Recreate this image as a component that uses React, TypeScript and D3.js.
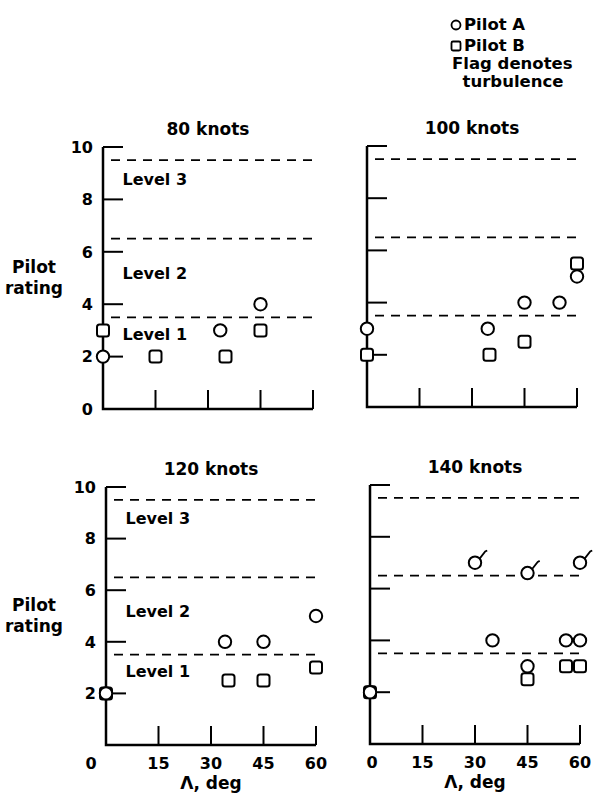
import React from "react";
import * as d3 from "d3";

// ---------- data ----------
const panelTitles = ["80 knots", "100 knots", "120 knots", "140 knots"];
const levelBounds = [3.5, 6.5, 9.5];
const levelNames = ["Level 1", "Level 2", "Level 3"];
const levelLabelY = [2.65, 4.95, 8.55];
const yTickValues = [2, 4, 6, 8, 10];
const xTickValues = [15, 30, 45, 60];
const xTickLabels = ["15", "30", "45", "60"];
const yTickLabels = ["2", "4", "6", "8", "10"];

// 80 knots
const sweep80A = [0, 33.5, 45];
const rating80A = [2, 3, 4];
const sweep80B = [0, 15, 35, 45];
const rating80B = [3, 2, 2, 3];
// 100 knots
const sweep100A = [0, 34.5, 45, 55, 60];
const rating100A = [3, 3, 4, 4, 5];
const sweep100B = [0, 35, 45, 60];
const rating100B = [2, 2, 2.5, 5.5];
// 120 knots
const sweep120A = [0, 34, 45, 60];
const rating120A = [2, 4, 4, 5];
const sweep120B = [0, 35, 45, 60];
const rating120B = [2, 2.5, 2.5, 3];
// 140 knots
const sweep140A = [0, 35, 45, 56, 60];
const rating140A = [2, 4, 3, 4, 4];
const sweep140Aturb = [30, 45, 60];
const rating140Aturb = [7, 6.6, 7];
const sweep140B = [0, 45, 56, 60];
const rating140B = [2, 2.5, 3, 3];

type Pt = { x: number; y: number; flag?: boolean };
const zip = (xs: number[], ys: number[], flag = false): Pt[] =>
  xs.map((x, i) => ({ x, y: ys[i], flag }));

const panelData = [
  { A: zip(sweep80A, rating80A), B: zip(sweep80B, rating80B) },
  { A: zip(sweep100A, rating100A), B: zip(sweep100B, rating100B) },
  { A: zip(sweep120A, rating120A), B: zip(sweep120B, rating120B) },
  {
    A: [...zip(sweep140A, rating140A), ...zip(sweep140Aturb, rating140Aturb, true)],
    B: zip(sweep140B, rating140B),
  },
];

// ---------- layout ----------
const W = 593;
const H = 800;
const PW = 210;
const geom = [
  { left: 103, top: 147, bottom: 409, yLabels: true, xLabels: false, zeroMode: "left" },
  { left: 367, top: 146, bottom: 407, yLabels: false, xLabels: false, zeroMode: "none" },
  { left: 106, top: 487, bottom: 745, yLabels: true, xLabels: true, zeroMode: "corner" },
  { left: 370, top: 485, bottom: 744, yLabels: false, xLabels: true, zeroMode: "center" },
];
const FONT = "'DejaVu Sans', Verdana, sans-serif";
const R = 6.2;
const SQ = 12;

const st = (fs: number) => ({ fontFamily: FONT, fontWeight: 700, fontSize: fs, fill: "#000" } as const);

function Panel({ idx }: { idx: number }) {
  const g = geom[idx];
  const x = d3.scaleLinear().domain([0, 60]).range([g.left, g.left + PW]);
  const y = d3.scaleLinear().domain([0, 10]).range([g.bottom, g.top]);
  const data = panelData[idx];
  const tick = st(16);
  return (
    <g>
      <text x={(x(0) + x(60)) / 2} y={g.top - 12.5} textAnchor="middle" style={st(17)}>
        {panelTitles[idx]}
      </text>
      {/* axes */}
      <path
        d={`M${x(0)},${y(10)} V${y(0)} H${x(60)}`}
        fill="none"
        stroke="#000"
        strokeWidth={2.5}
      />
      {yTickValues.map((v) => (
        <line key={"yt" + v} x1={x(0)} x2={x(0) + 20} y1={y(v)} y2={y(v)} stroke="#000" strokeWidth={2} />
      ))}
      {xTickValues.map((v) => (
        <line key={"xt" + v} x1={x(v)} x2={x(v)} y1={y(0)} y2={y(0) - 19} stroke="#000" strokeWidth={2} />
      ))}
      {/* level boundaries */}
      {levelBounds.map((v) => (
        <line
          key={"lb" + v}
          x1={x(0) + 8}
          x2={x(60)}
          y1={y(v)}
          y2={y(v)}
          stroke="#000"
          strokeWidth={1.8}
          strokeDasharray="9,7"
        />
      ))}
      {idx % 2 === 0 &&
        levelNames.map((n, i) => (
          <text key={n} x={x(0) + 19.5} y={y(levelLabelY[i])} style={st(16)}>
            {n}
          </text>
        ))}
      {g.yLabels &&
        yTickValues.map((v, i) => (
          <text key={"yl" + v} x={x(0) - 10} y={y(v)} dy="0.36em" textAnchor="end" style={tick}>
            {yTickLabels[i]}
          </text>
        ))}
      {g.xLabels &&
        xTickValues.map((v, i) => (
          <text key={"xl" + v} x={x(v)} y={y(0) + 24} textAnchor="middle" style={tick}>
            {xTickLabels[i]}
          </text>
        ))}
      {g.zeroMode === "left" && (
        <text x={x(0) - 10} y={y(0)} dy="0.36em" textAnchor="end" style={tick}>
          0
        </text>
      )}
      {g.zeroMode === "corner" && (
        <text x={x(0) - 15} y={y(0) + 24} textAnchor="middle" style={tick}>
          0
        </text>
      )}
      {g.zeroMode === "center" && (
        <text x={x(0) + 2} y={y(0) + 24} textAnchor="middle" style={tick}>
          0
        </text>
      )}
      {g.xLabels && (
        <text x={(x(0) + x(60)) / 2} y={y(0) + 44} textAnchor="middle" style={st(17)}>
          Λ, deg
        </text>
      )}
      {idx % 2 === 0 && (
        <text x={34} y={y(5.2)} textAnchor="middle" style={st(17)}>
          <tspan x={34}>Pilot</tspan>
          <tspan x={34} dy={21}>rating</tspan>
        </text>
      )}
      {/* markers: squares (Pilot B) then circles (Pilot A) */}
      {data.B.map((p, i) => (
        <rect
          key={"b" + i}
          x={x(p.x) - SQ / 2}
          y={y(p.y) - SQ / 2}
          width={SQ}
          height={SQ}
          rx={2.5}
          fill="#fff"
          stroke="#000"
          strokeWidth={2}
        />
      ))}
      {data.A.map((p, i) => (
        <g key={"a" + i}>
          <circle cx={x(p.x)} cy={y(p.y)} r={R} fill="#fff" stroke="#000" strokeWidth={2} />
          {p.flag && (
            <path
              d={`M${x(p.x) + R * 0.75},${y(p.y) - R * 0.65} L${x(p.x) + R + 4},${y(p.y) - R - 5} l2,-1`}
              fill="none"
              stroke="#000"
              strokeWidth={1.8}
            />
          )}
        </g>
      ))}
    </g>
  );
}

export default function App() {
  const ls = st(16.5);
  return (
    <svg
      width={W}
      height={H}
      viewBox={`0 0 ${W} ${H}`}
      style={{ position: "absolute", left: 0, top: 0, background: "#fff" }}
    >
      <rect width={W} height={H} fill="#fff" />
      {/* legend */}
      <circle cx={456} cy={25} r={4.5} fill="#fff" stroke="#000" strokeWidth={1.8} />
      <text x={464} y={30} style={ls}>Pilot A</text>
      <rect x={451.5} y={41.5} width={9} height={9} rx={1.5} fill="#fff" stroke="#000" strokeWidth={1.8} />
      <text x={464} y={51} style={ls}>Pilot B</text>
      <text x={452} y={69} style={ls}>Flag denotes</text>
      <text x={513} y={87} textAnchor="middle" style={ls}>turbulence</text>
      {panelTitles.map((_, i) => (
        <Panel key={i} idx={i} />
      ))}
    </svg>
  );
}
